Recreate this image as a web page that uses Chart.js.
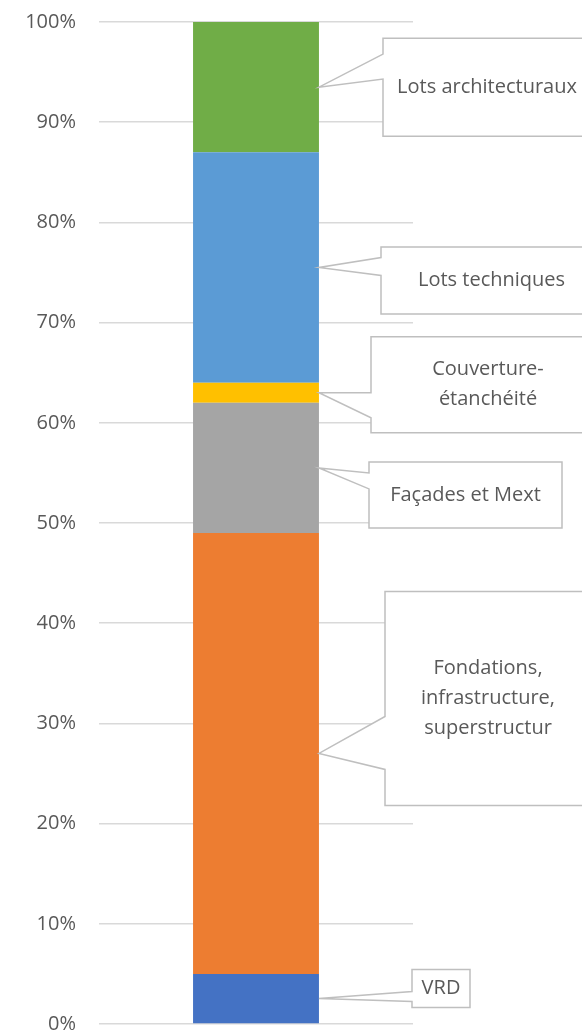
<!DOCTYPE html>
<html>
<head>
<meta charset="utf-8">
<script src="https://cdn.jsdelivr.net/npm/chart.js@4.4.0/dist/chart.umd.min.js"></script>
<style>
  html, body { margin: 0; padding: 0; background: #ffffff; }
  #wrap { width: 582px; height: 1030px; }
</style>
</head>
<body>
<div id="wrap"><canvas id="chart" width="582" height="1030"></canvas></div>
<script>
// Data.
const categories = ["Total"];
const seriesNames = [
  "VRD",
  "Fondations,\ninfrastructure,\nsuperstructur",
  "Façades et Mext",
  "Couverture-\nétanchéité",
  "Lots techniques",
  "Lots architecturaux",
];
const seriesValues = [5, 44, 13, 2, 23, 13];
const seriesColors = ["#4472c4", "#ed7d31", "#a5a5a5", "#ffc000", "#5b9bd5", "#70ad47"];
const yTicks = [0, 10, 20, 30, 40, 50, 60, 70, 80, 90, 100];

// Callout box layout (px): x/w of box, dy = box centre minus tip, h = height,
// w1/w2 = wedge base on box left edge, relative to the tip.
const callouts = [
  { x: 412, w: 58, dy: -10, h: 38, w1: -7, w2: 3 },
  { x: 385, w: 206, dy: -55, h: 214, w1: -37, w2: 16 },
  { x: 369, w: 193, dy: 27, h: 66, w1: 5, w2: 21 },
  { x: 371, w: 234, dy: -8, h: 96, w1: 0, w2: 25 },
  { x: 381, w: 221, dy: 13, h: 67, w1: -10, w2: 8 },
  { x: 383, w: 208, dy: 0, h: 98, w1: -33, w2: -8 },
];

const FONT = "'Open Sans', 'Noto Sans', sans-serif";
const TEXT = "#595959";

const calloutPlugin = {
  id: "callouts",
  afterDraw(chart) {
    const ctx = chart.ctx;
    ctx.save();
    seriesNames.forEach((name, i) => {
      const el = chart.getDatasetMeta(i).data[0];
      if (!el) return;
      const c = callouts[i];
      const tipX = el.x + el.width / 2;
      const tipY = (el.y + el.base) / 2;
      const top = tipY + c.dy - c.h / 2;
      const bottom = top + c.h;
      const left = c.x;
      const right = c.x + c.w;

      ctx.beginPath();
      ctx.moveTo(left, top);
      ctx.lineTo(right, top);
      ctx.lineTo(right, bottom);
      ctx.lineTo(left, bottom);
      ctx.lineTo(left, tipY + c.w2);
      ctx.lineTo(tipX, tipY);
      ctx.lineTo(left, tipY + c.w1);
      ctx.closePath();
      ctx.fillStyle = "#ffffff";
      ctx.fill();
      ctx.strokeStyle = "#bfbfbf";
      ctx.lineWidth = 1.5;
      ctx.stroke();

      const lines = name.split("\n");
      const lh = 30;
      ctx.fillStyle = TEXT;
      ctx.font = "20px " + FONT;
      ctx.textAlign = "center";
      ctx.textBaseline = "middle";
      const cy = (top + bottom) / 2;
      lines.forEach((ln, k) => {
        ctx.fillText(ln, (left + right) / 2, cy + (k - (lines.length - 1) / 2) * lh);
      });
    });
    ctx.restore();
  },
};

new Chart(document.getElementById("chart"), {
  type: "bar",
  data: {
    labels: categories,
    datasets: seriesNames.map((name, i) => ({
      label: name.replace(/\n/g, " "),
      data: [seriesValues[i]],
      backgroundColor: seriesColors[i],
      borderWidth: 0,
      categoryPercentage: 1,
      barPercentage: 0.401,
    })),
  },
  options: {
    responsive: false,
    animation: false,
    layout: { padding: { top: 22, bottom: 6, left: 0, right: 169 } },
    plugins: {
      legend: { display: false },
      tooltip: { enabled: false },
    },
    scales: {
      x: { stacked: true, display: false },
      y: {
        stacked: true,
        min: 0,
        max: 100,
        afterFit(scale) {
          scale.width = 99;
        },
        afterBuildTicks(scale) {
          scale.ticks = yTicks.map((v) => ({ value: v }));
        },
        border: { display: false },
        grid: {
          color: "#d9d9d9",
          lineWidth: 1.5,
          drawTicks: true,
          tickLength: 29,
          tickColor: "rgba(0,0,0,0)",
        },
        ticks: {
          padding: -6,
          color: TEXT,
          font: { family: FONT, size: 20 },
          callback: (v) => v + "%",
        },
      },
    },
  },
  plugins: [calloutPlugin],
});
</script>
</body>
</html>
